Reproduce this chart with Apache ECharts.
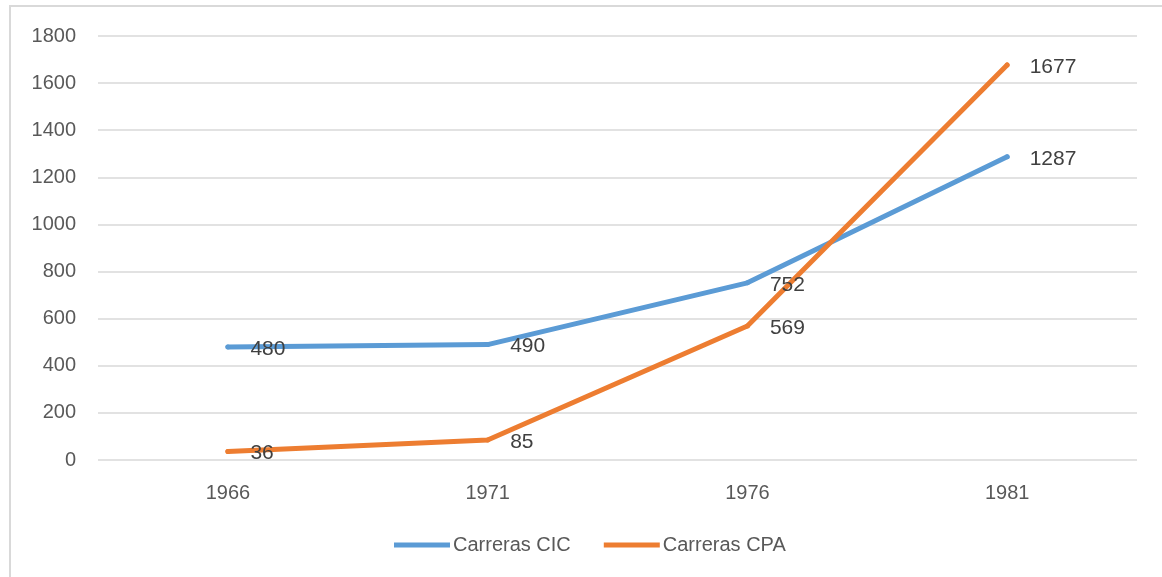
<!DOCTYPE html>
<html><head><meta charset="utf-8">
<script src="https://cdn.jsdelivr.net/npm/echarts@6/dist/echarts.min.js"></script>
<style>html,body{margin:0;padding:0;background:#fff}#c{width:1162px;height:577px}</style>
</head><body><div id="c"></div>
<script>
const categories = ['1966','1971','1976','1981'];
const cicValues = [480, 490, 752, 1287];
const cpaValues = [36, 85, 569, 1677];
const seriesNames = ['Carreras CIC','Carreras CPA'];
const colors = ['#5B9BD5','#ED7D31'];
const font = 'Liberation Sans, Arial, sans-serif';
const chart = echarts.init(document.getElementById('c'));
function mk(name, data, color){
  return {
    name, type:'line', data, color,
    symbol:'circle', symbolSize:5,
    itemStyle:{color},
    lineStyle:{width:5, color, cap:'round', join:'round'},
    label:{show:true, position:'right', distance:20, offset:[0,2], color:'#404040', fontSize:21, fontFamily:font},
    emphasis:{disabled:true}, animation:false
  };
}
chart.setOption({
  animation:false,
  graphic:[{type:'rect', shape:{x:10, y:6, width:1170, height:590}, style:{fill:'none', stroke:'#d9d9d9', lineWidth:2}, silent:true}],
  grid:{left:98, right:25, top:36, bottom:117, containLabel:false},
  legend:{bottom:17, left:389, itemWidth:56, itemHeight:5, itemGap:33, icon:'rect',
    textStyle:{color:'#595959', fontSize:20, fontFamily:font, padding:[0,0,0,-2]}, data:seriesNames},
  xAxis:{type:'category', data:categories, boundaryGap:true,
    axisLine:{show:false}, axisTick:{show:false},
    axisLabel:{color:'#595959', fontSize:20, fontFamily:font, margin:23}},
  yAxis:{type:'value', min:0, max:1800, interval:200,
    axisLine:{show:false}, axisTick:{show:false},
    axisLabel:{color:'#595959', fontSize:20, fontFamily:font, margin:22, formatter:v=>String(v)},
    splitLine:{lineStyle:{color:'#d9d9d9', width:1.5}}},
  series:[mk(seriesNames[0], cicValues, colors[0]), mk(seriesNames[1], cpaValues, colors[1])]
});
</script></body></html>
